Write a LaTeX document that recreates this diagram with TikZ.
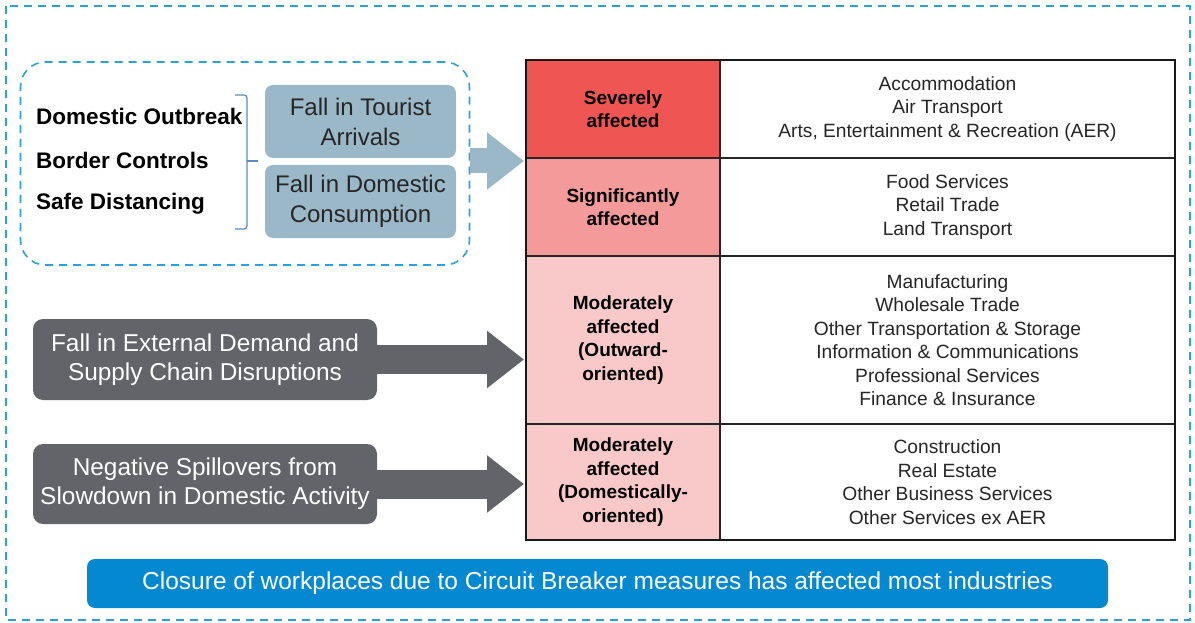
\documentclass[tikz,border=0pt]{standalone}
\usepackage{fontspec}
\setmainfont{Liberation Sans}
\usetikzlibrary{positioning}
\usetikzlibrary{arrows.meta}
\definecolor{dashBlue}{RGB}{44,160,220}
\definecolor{braceBlue}{RGB}{90,138,190}
\definecolor{softBlue}{RGB}{155,184,200}
\definecolor{darkGrey}{RGB}{99,100,105}
\definecolor{severeRed}{RGB}{239,86,83}
\definecolor{signifRed}{RGB}{245,154,154}
\definecolor{moderRed}{RGB}{249,200,200}
\definecolor{barBlue}{RGB}{4,137,209}

\begin{document}
\begin{tikzpicture}[%%
  x=1pt,y=-1pt,%%
  dashStyle/.style={dashBlue,line width=1.6pt,dash pattern=on 8pt off 6pt},%%
  factorStyle/.style={anchor=west,inner sep=0pt,font=\fontsize{22.5}{26}\selectfont\bfseries},%%
  softStyle/.style={fill=softBlue,rounded corners=8pt,minimum width=191pt,minimum height=73pt,%%
    align=center,text=black!85,font=\fontsize{24}{30}\selectfont},%%
  greyBoxStyle/.style={fill=darkGrey,rounded corners=10pt,minimum width=344pt,minimum height=81pt,%%
    align=center,text=white,font=\fontsize{24.4}{29}\selectfont},%%
  labelCell/.style={draw=black!85,line width=1.5pt,outer sep=0pt,minimum width=194pt,%%
    align=center,font=\fontsize{19}{23.5}\selectfont\bfseries},%%
  listCell/.style={draw=black!85,line width=1.5pt,outer sep=0pt,minimum width=455pt,fill=white,%%
    align=center,text=black!85,font=\fontsize{19.2}{23.5}\selectfont},%%
  fatArrow/.style={line width=29pt,-{Triangle[length=37pt,width=55pt]},shorten >=2pt},%%
]
\useasboundingbox (0,0) rectangle (1195,623);
%%
%% Outer frame.
\draw[dashStyle] (6,6) rectangle (1190,620);
%%
%% Domestic causes.
\node[draw=dashBlue,line width=1.6pt,dash pattern=on 8pt off 6pt,rounded corners=25pt,%%
  minimum width=449pt,minimum height=203pt] (domestic) at (245,163.5) {};
\node[factorStyle] (outbreak) at (36,116) {Domestic Outbreak};
\node[factorStyle] (border) at (36,160) {Border Controls};
\node[factorStyle] (distancing) at (36,204) {Safe Distancing};
\draw[braceBlue,line width=1.3pt,rounded corners=3pt]
  (235,95) -- (247,95) -- (247,229) -- (235,229);
\draw[braceBlue,line width=1.3pt] (247,161) -- (258,161);
\node[softStyle] (tourist) at (360.5,121.5) {Fall in Tourist\\Arrivals};
\node[softStyle] (consumption) at (360.5,201.5) {Fall in Domestic\\Consumption};
%%
%% Table of affected industries.
\node[labelCell,fill=severeRed,minimum height=98pt,anchor=north west] (severe) at (526,60)
  {Severely\\affected};
\node[listCell,minimum height=98pt,right=0pt of severe] (severeList)
  {Accommodation\\Air Transport\\Arts, Entertainment \& Recreation (AER)};
\node[labelCell,fill=signifRed,minimum height=98pt,below=0pt of severe] (signif)
  {Significantly\\affected};
\node[listCell,minimum height=98pt,right=0pt of signif] (signifList)
  {Food Services\\Retail Trade\\Land Transport};
\node[labelCell,fill=moderRed,minimum height=168pt,below=0pt of signif] (outward)
  {Moderately\\affected\\(Outward-\\oriented)};
\node[listCell,minimum height=168pt,right=0pt of outward] (outwardList)
  {Manufacturing\\Wholesale Trade\\Other Transportation \& Storage\\%%
   Information \& Communications\\Professional Services\\Finance \& Insurance};
\node[labelCell,fill=moderRed,minimum height=116pt,below=0pt of outward] (inward)
  {Moderately\\affected\\(Domestically-\\oriented)};
\node[listCell,minimum height=116pt,right=0pt of inward] (inwardList)
  {Construction\\Real Estate\\Other Business Services\\Other Services ex AER};
\draw[black!90,line width=2pt] (severe.north west) rectangle (inwardList.south east);
%%
%% External causes.
\node[greyBoxStyle] (external) at (205,359.5) {Fall in External Demand and\\Supply Chain Disruptions};
\node[greyBoxStyle,minimum height=80pt] (spillover) at (205,484) {Negative Spillovers from\\Slowdown in Domestic Activity};
%%
%% Arrows into the table.
\draw[fatArrow,softBlue,line width=25pt] (domestic.east |- 0,161) -- (severe.west |- 0,161);
\draw[fatArrow,darkGrey] (external.east) -- (external.east -| outward.west);
\draw[fatArrow,darkGrey] (spillover.east) -- (spillover.east -| inward.west);
%%
%% Circuit breaker bar.
\node[fill=barBlue,rounded corners=8pt,minimum width=1021pt,minimum height=49pt,text=white,%%
  font=\fontsize{24.5}{26}\selectfont] (closure) at (597.5,583.5)
  {Closure of workplaces due to Circuit Breaker measures has affected most industries};
\end{tikzpicture}
\end{document}
